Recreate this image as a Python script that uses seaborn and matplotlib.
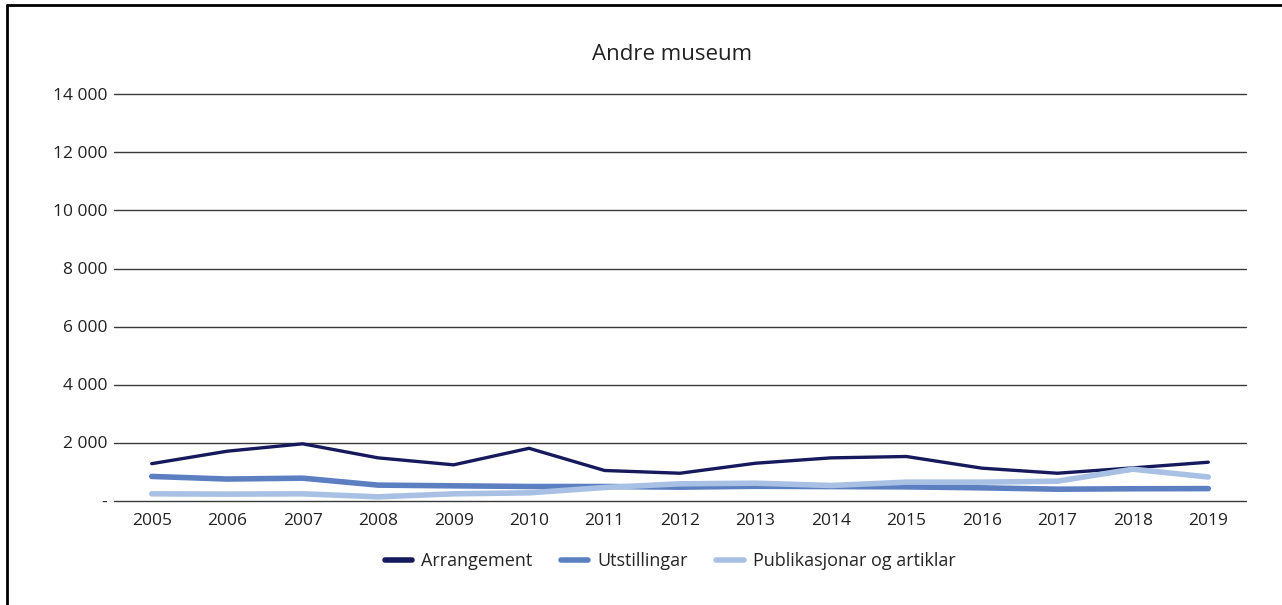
import pandas as pd
import seaborn as sns
import matplotlib.pyplot as plt
from matplotlib.lines import Line2D
from matplotlib.ticker import FuncFormatter

years = [str(y) for y in range(2005, 2020)]
arrangement = [1270, 1700, 1955, 1470, 1230, 1800, 1035, 940, 1285, 1470, 1517, 1115, 940, 1125, 1320]
utstillingar = [830, 740, 770, 530, 506, 483, 483, 460, 490, 480, 470, 437, 390, 405, 410]
publikasjonar = [230, 220, 230, 126, 230, 264, 448, 575, 597, 517, 632, 632, 665, 1080, 810]

series = ['Arrangement', 'Utstillingar', 'Publikasjonar og artiklar']
colors = ['#161a5c', '#5b7fc1', '#a8c0e4']
widths = [2.4, 4.0, 4.0]

df = pd.DataFrame({'year': years, series[0]: arrangement,
                   series[1]: utstillingar, series[2]: publikasjonar})
long = df.melt(id_vars='year', var_name='serie', value_name='value')

sns.set_theme(style='white')
plt.rcParams['font.family'] = ['Open Sans', 'DejaVu Sans']

fig = plt.figure(figsize=(12.82, 6.05), dpi=100)
ax = fig.add_axes([114 / 1282, 1 - 500.5 / 605, (1246 - 114) / 1282, 406 / 605])

for name, col, lw in zip(series, colors, widths):
    sns.lineplot(data=long[long.serie == name], x='year', y='value', ax=ax,
                 color=col, linewidth=lw, solid_capstyle='round', legend=False)

ax.set_ylim(0, 14000)
ax.set_xlim(-0.5, len(years) - 0.5)
ax.set_yticks(range(0, 14001, 2000))
ax.yaxis.set_major_formatter(FuncFormatter(
    lambda v, p: '-' if v == 0 else f'{int(v):,}'.replace(',', ' ')))
ax.grid(axis='y', color='#3a3a3a', linewidth=1.0)
for gl in ax.get_ygridlines():
    gl.set_clip_on(False)
ax.set_axisbelow(True)
for s in ax.spines.values():
    s.set_visible(False)
ax.tick_params(axis='both', length=0, labelsize=12.5, colors='#222222')
ax.tick_params(axis='y', pad=5)
ax.tick_params(axis='x', pad=9)
ax.set_xlabel('')
ax.set_ylabel('')

fig.text(672 / 1282, 1 - 55 / 605, 'Andre museum', ha='center', va='center',
         fontsize=16, color='#222222')

handles = [Line2D([], [], color=c, linewidth=4, solid_capstyle='round') for c in colors]
fig.legend(handles, series, loc='center', bbox_to_anchor=(670 / 1282, 1 - 561 / 605),
           ncol=3, frameon=False, fontsize=13, handlelength=1.5, columnspacing=1.6,
           handletextpad=0.5)

# frame on left and top edges
fig.add_artist(Line2D([6.5 / 1282, 6.5 / 1282], [0, 1 - 4.5 / 605], color='black',
                      linewidth=2, transform=fig.transFigure))
fig.add_artist(Line2D([6.5 / 1282, 1], [1 - 4.5 / 605, 1 - 4.5 / 605], color='black',
                      linewidth=2, transform=fig.transFigure))

fig.savefig('out.png', dpi=100, facecolor='white')
